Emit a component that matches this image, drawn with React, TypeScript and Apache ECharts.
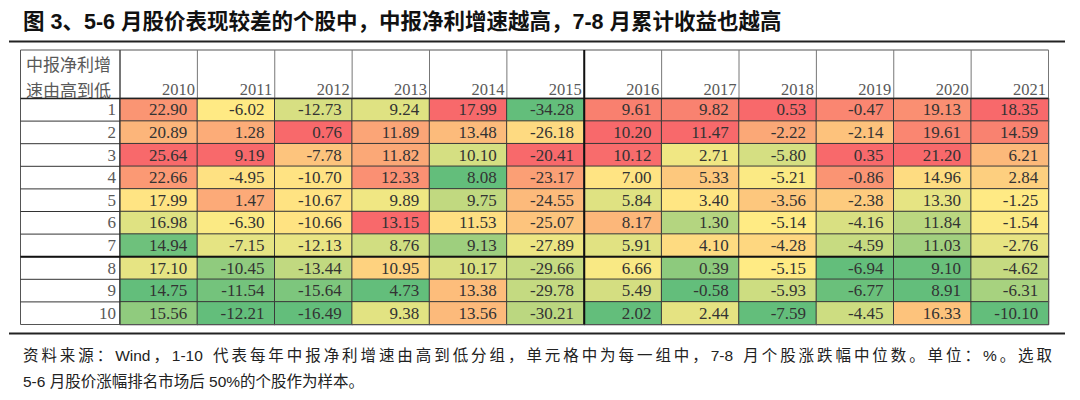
import React, { useEffect, useRef } from "react";
import * as echarts from "echarts";

// ---------- data ----------
const years = ["2010", "2011", "2012", "2013", "2014", "2015", "2016", "2017", "2018", "2019", "2020", "2021"];
const groups = ["1", "2", "3", "4", "5", "6", "7", "8", "9", "10"];

const v2010 = [22.9, 20.89, 25.64, 22.66, 17.99, 16.98, 14.94, 17.1, 14.75, 15.56];
const v2011 = [-6.02, 1.28, 9.19, -4.95, 1.47, -6.3, -7.15, -10.45, -11.54, -12.21];
const v2012 = [-12.73, 0.76, -7.78, -10.7, -10.67, -10.66, -12.13, -13.44, -15.64, -16.49];
const v2013 = [9.24, 11.89, 11.82, 12.33, 9.89, 13.15, 8.76, 10.95, 4.73, 9.38];
const v2014 = [17.99, 13.48, 10.1, 8.08, 9.75, 11.53, 9.13, 10.17, 13.38, 13.56];
const v2015 = [-34.28, -26.18, -20.41, -23.17, -24.55, -25.07, -27.89, -29.66, -29.78, -30.21];
const v2016 = [9.61, 10.2, 10.12, 7.0, 5.84, 8.17, 5.91, 6.66, 5.49, 2.02];
const v2017 = [9.82, 11.47, 2.71, 5.33, 3.4, 1.3, 4.1, 0.39, -0.58, 2.44];
const v2018 = [0.53, -2.22, -5.8, -5.21, -3.56, -5.14, -4.28, -5.15, -5.93, -7.59];
const v2019 = [-0.47, -2.14, 0.35, -0.86, -2.38, -4.16, -4.59, -6.94, -6.77, -4.45];
const v2020 = [19.13, 19.61, 21.2, 14.96, 13.3, 11.84, 11.03, 9.1, 8.91, 16.33];
const v2021 = [18.35, 14.59, 6.21, 2.84, -1.25, -1.54, -2.76, -4.62, -6.31, -10.1];

const columns = [v2010, v2011, v2012, v2013, v2014, v2015, v2016, v2017, v2018, v2019, v2020, v2021];

const titleText = "图 3、5-6 月股价表现较差的个股中，中报净利增速越高，7-8 月累计收益也越高";
const headerLine1 = "中报净利增";
const headerLine2 = "速由高到低";
const noteLine1 = "资料来源：Wind，1-10 代表每年中报净利增速由高到低分组，单元格中为每一组中，7-8 月个股涨跌幅中位数。单位：%。选取";
const noteLine2 = "5-6 月股价涨幅排名市场后 50%的个股作为样本。";

// ---------- layout ----------
const TABLE_LEFT = 20.5;
const LABEL_RIGHT = 120;
const TABLE_RIGHT = 1048.5;
const TABLE_TOP = 50;
const HEADER_BOTTOM = 98.5;
const TABLE_BOTTOM = 324.5;
const CELL_W = (TABLE_RIGHT - LABEL_RIGHT) / years.length;
const CELL_H = (TABLE_BOTTOM - HEADER_BOTTOM) / groups.length;

const SERIF = '"Liberation Serif", "Times New Roman", serif';
const SANS = '"Liberation Sans", Arial, "Noto Sans CJK SC", sans-serif';

// Excel-style 3-colour scale position (min -> 50th percentile -> max), per column
function scalePos(col: number[]): number[] {
  const s = [...col].sort((a, b) => a - b);
  const n = s.length;
  const min = s[0];
  const max = s[n - 1];
  const med = n % 2 ? s[(n - 1) / 2] : (s[n / 2 - 1] + s[n / 2]) / 2;
  return col.map((v) =>
    v <= med ? (0.5 * (v - min)) / (med - min || 1) : 0.5 + (0.5 * (v - med)) / (max - med || 1)
  );
}

// justified line: CJK characters and latin runs are spread evenly between x0 and x1
function spreadText(text: string, x0: number, x1: number, y: number, fontSize: number, fill: string) {
  const canvas = document.createElement("canvas");
  const ctx = canvas.getContext("2d")!;
  ctx.font = `${fontSize}px ${SANS}`;
  const tokens = text.match(/[A-Za-z0-9%.\-]+|\s|./gu) || [];
  const widths = tokens.map((c) => ctx.measureText(c).width);
  const total = widths.reduce((a, b) => a + b, 0);
  const extra = (x1 - x0 - total) / (tokens.length - 1);
  const out: any[] = [];
  let x = x0;
  tokens.forEach((c, i) => {
    if (c.trim() !== "") {
      out.push({
        type: "text",
        x,
        y,
        silent: true,
        style: { text: c, fontSize, fontFamily: SANS, fill, align: "left", verticalAlign: "middle" },
      });
    }
    x += widths[i] + extra;
  });
  return out;
}

export default function App() {
  const ref = useRef<HTMLDivElement>(null);

  useEffect(() => {
    if (!ref.current) return;
    const chart = echarts.init(ref.current, undefined, { renderer: "svg" });

    const data: any[] = [];
    columns.forEach((col, c) => {
      const pos = scalePos(col);
      col.forEach((v, r) => data.push([c, r, v, pos[r]]));
    });

    const g: any[] = [];
    const line = (x1: number, y1: number, x2: number, y2: number, stroke: string, lineWidth: number) =>
      g.push({ type: "line", silent: true, z: 10, shape: { x1, y1, x2, y2 }, style: { stroke, lineWidth } });

    // title + rules
    g.push({
      type: "text",
      x: 23,
      y: 22,
      silent: true,
      style: {
        text: titleText,
        fontSize: 21.5,
        fontWeight: "bold",
        fontFamily: SANS,
        fill: "#111",
        align: "left",
        verticalAlign: "middle",
      },
    });
    line(9, 41.5, 1065, 41.5, "#222", 2);
    line(9, 333.5, 1065, 333.5, "#222", 2);

    // table frame (header row + label column)
    g.push({
      type: "rect",
      silent: true,
      z: 9,
      shape: { x: TABLE_LEFT, y: TABLE_TOP, width: TABLE_RIGHT - TABLE_LEFT, height: TABLE_BOTTOM - TABLE_TOP },
      style: { fill: "none", stroke: "#555", lineWidth: 1 },
    });
    for (let i = 0; i <= years.length; i++) {
      const x = LABEL_RIGHT + i * CELL_W;
      line(x, TABLE_TOP, x, HEADER_BOTTOM, "#777", 1);
    }
    line(LABEL_RIGHT, TABLE_TOP, LABEL_RIGHT, TABLE_BOTTOM, "#333", 1);
    for (let r = 1; r < groups.length; r++) {
      const y = HEADER_BOTTOM + r * CELL_H;
      line(TABLE_LEFT, y, LABEL_RIGHT, y, "#333", 1);
    }
    line(TABLE_LEFT, HEADER_BOTTOM, TABLE_RIGHT, HEADER_BOTTOM, "#222", 1.5);
    // thick separators
    line(TABLE_LEFT, HEADER_BOTTOM + 7 * CELL_H, TABLE_RIGHT, HEADER_BOTTOM + 7 * CELL_H, "#111", 2);
    line(LABEL_RIGHT + 6 * CELL_W, TABLE_TOP, LABEL_RIGHT + 6 * CELL_W, TABLE_BOTTOM, "#111", 2);

    // header text
    [headerLine1, headerLine2].forEach((t, i) =>
      g.push({
        type: "text",
        x: 26,
        y: 63 + i * 26,
        silent: true,
        style: {
          text: t,
          fontSize: 17,
          fontFamily: '"Noto Sans CJK SC", sans-serif',
          fill: "#595959",
          align: "left",
          verticalAlign: "middle",
        },
      })
    );

    // notes
    g.push(...spreadText(noteLine1, 23, 1052, 355, 15.5, "#222"));
    g.push({
      type: "text",
      x: 23,
      y: 381,
      silent: true,
      style: { text: noteLine2, fontSize: 15.5, fontFamily: SANS, fill: "#222", align: "left", verticalAlign: "middle" },
    });

    chart.setOption({
      animation: false,
      backgroundColor: "#fff",
      grid: {
        left: LABEL_RIGHT,
        top: HEADER_BOTTOM,
        width: TABLE_RIGHT - LABEL_RIGHT,
        height: TABLE_BOTTOM - HEADER_BOTTOM,
        containLabel: false,
      },
      xAxis: {
        type: "category",
        data: years,
        position: "top",
        axisLine: { show: false },
        axisTick: { show: false },
        splitLine: { show: false },
        axisLabel: {
          interval: 0,
          margin: 1,
          formatter: (v: string) => `{y|${v}}`,
          rich: {
            y: { width: CELL_W - 5, align: "right", fontFamily: SERIF, fontSize: 16.5, color: "#595959" },
          },
        },
      },
      yAxis: {
        type: "category",
        data: groups,
        inverse: true,
        axisLine: { show: false },
        axisTick: { show: false },
        splitLine: { show: false },
        axisLabel: { interval: 0, margin: 4, fontFamily: SERIF, fontSize: 17, color: "#595959" },
      },
      visualMap: {
        type: "continuous",
        show: false,
        dimension: 3,
        min: 0,
        max: 1,
        seriesIndex: 0,
        inRange: { color: ["#63BE7B", "#FFEB84", "#F8696B"] },
      },
      graphic: { elements: g },
      series: [
        {
          type: "heatmap",
          data,
          itemStyle: { borderColor: "#3a3a3a", borderWidth: 1 },
          emphasis: { disabled: true },
          label: {
            show: true,
            position: "insideRight",
            distance: 11,
            color: "#333",
            fontFamily: SERIF,
            fontSize: 17,
            formatter: (p: any) => Number(p.value[2]).toFixed(2),
          },
        },
      ],
    });

    return () => chart.dispose();
  }, []);

  return (
    <div
      ref={ref}
      style={{ position: "fixed", left: 0, top: 0, width: 1080, height: 400, background: "#fff" }}
    />
  );
}
